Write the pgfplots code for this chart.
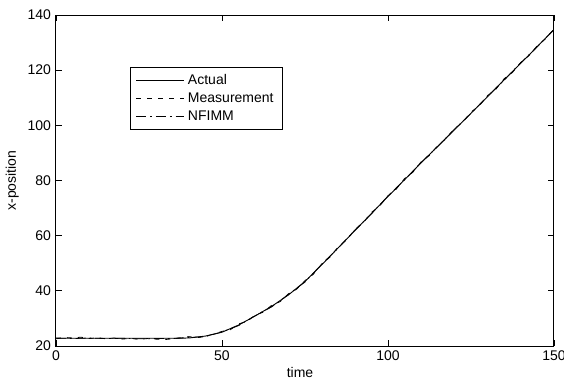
\documentclass[border=0pt]{standalone}
\usepackage{pgfplots}
\pgfplotsset{compat=1.18}
\usepackage{fontspec}
\setmainfont{Liberation Sans}
\begin{document}
\fontsize{7}{8.4}\selectfont
\begin{tikzpicture}
\useasboundingbox (-28pt,-17.5pt) rectangle (254pt,173pt);
\begin{axis}[
  at={(0,0)}, anchor=south west,
  scale only axis,
  width=249pt, height=165.5pt,
  xmin=0, xmax=150, ymin=20, ymax=140,
  xtick={0,50,100,150},
  ytick={20,40,...,140},
  tick align=inside,
  major tick length=3pt,
  tick style={black, line width=0.4pt},
  axis line style={line width=0.5pt},
  /pgf/number format/assume math mode=true,
  ticklabel style={font=\fontsize{7}{8.4}\selectfont},
  xlabel={time}, ylabel={x-position},
  label style={font=\fontsize{7}{8.4}\selectfont},
  xlabel style={at={(axis description cs:0.49,-0.079)}, anchor=center},
  ylabel style={at={(axis description cs:-0.088,0.5)}, anchor=center, rotate=0},
  legend style={at={(axis cs:22.4,121.3)}, anchor=north west,
    draw=black, line width=0.5pt, font=\fontsize{7}{8.4}\selectfont,
    inner xsep=2.5pt, inner ysep=1.5pt, row sep=-0.9pt, legend cell align=left},
  legend image code/.code={\draw[#1] (0cm,0cm) -- (0.83cm,0cm);},
]
\addplot[black, line width=0.45pt] coordinates {
(0,22.8) (5,22.8) (10,22.8) (15,22.8) (20,22.8) (25,22.8) (30,22.8) (35,22.8)
(40,22.9) (45,23.6) (50,25.0) (55,27.6) (60,30.9) (65,34.4) (70,38.5) (75,43.4)
(80,49.4) (85,55.6) (90,61.8) (95,68.0) (100,74.2) (105,80.3) (110,86.4)
(115,92.4) (120,98.4) (125,104.4) (130,110.4) (135,116.5) (140,122.5)
(145,128.6) (150,134.7)};
\addlegendentry{Actual}
\addplot[black, line width=0.4pt, dash pattern=on 2.5pt off 3pt] coordinates {
(0,22.6) (2.5,23.1) (5,22.9) (7.5,23.2) (10,22.7) (12.5,23.0) (15,22.6) (17.5,22.9)
(20,22.5) (22.5,22.8) (25,22.4) (27.5,22.7) (30,22.5) (32.5,22.3) (35,22.6) (37.5,22.9)
(40,23.4) (42.5,23.0) (45,23.5) (47.5,24.3) (50,25.3) (52.5,25.9) (55,28.0) (57.5,28.9)
(60,31.2) (62.5,32.3) (65,34.8) (67.5,36.1) (70,38.9) (72.5,40.6) (75,43.7) (77.5,46.0)
(80,49.7) (82.5,52.2) (85,55.9) (87.5,58.4) (90,62.2) (92.5,64.6) (95,68.4) (97.5,70.8)
(100,74.5) (102.5,76.9) (105,80.7) (107.5,83.0) (110,86.8) (112.5,89.1) (115,92.7)
(117.5,95.1) (120,98.8) (122.5,101.1) (125,104.8) (127.5,107.1) (130,110.8)
(132.5,113.1) (135,116.9) (137.5,119.2) (140,122.8) (142.5,125.3) (145,128.9)
(147.5,131.4) (150,134.9)};
\addlegendentry{Measurement}
\addplot[black, line width=0.4pt, dash pattern=on 5pt off 2pt on 0.8pt off 2pt] coordinates {
(0,22.9) (5,22.7) (10,22.9) (15,22.7) (20,22.8) (25,22.6) (30,22.7) (35,22.7)
(40,23.1) (45,23.4) (50,25.1) (55,27.4) (60,31.0) (65,34.2) (70,38.7) (75,43.2)
(80,49.6) (85,55.5) (90,62.0) (95,67.9) (100,74.4) (105,80.2) (110,86.6)
(115,92.3) (120,98.6) (125,104.3) (130,110.6) (135,116.4) (140,122.7)
(145,128.5) (150,134.8)};
\addlegendentry{NFIMM}
\end{axis}
\end{tikzpicture}
\end{document}
